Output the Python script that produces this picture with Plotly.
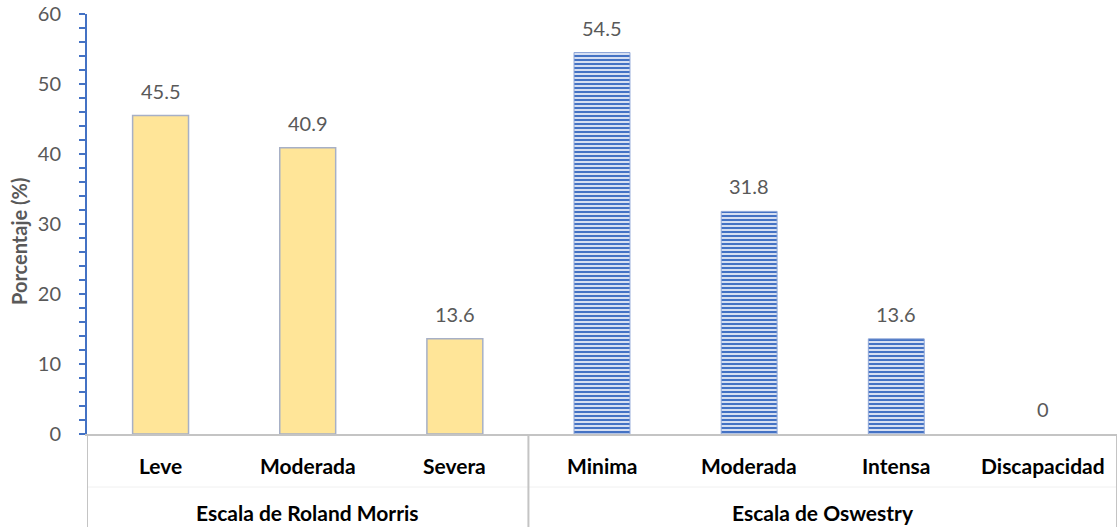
import plotly.graph_objects as go

# ---- data ----
groups = ["Escala de Roland Morris", "Escala de Oswestry"]
roland_categories = ["Leve", "Moderada", "Severa"]
roland_values = [45.5, 40.9, 13.6]
oswestry_categories = ["Minima", "Moderada", "Intensa", "Discapacidad"]
oswestry_values = [54.5, 31.8, 13.6, 0]
y_title = "Porcentaje (%)"
y_ticks = [0, 10, 20, 30, 40, 50, 60]

categories = roland_categories + oswestry_categories
values = roland_values + oswestry_values
x_roland = list(range(len(roland_categories)))
x_osw = list(range(len(roland_categories), len(categories)))
n = len(categories)

FONT = "Lato"
GRAY_TXT = "#595959"
TABLE = "#C4C4C4"
BLUE = "#4472C4"

W, H = 1119, 527
ML, MR, MT, MB = 87, 2, 14, 93
plot_w = W - ML - MR
plot_h = H - MT - MB

fig = go.Figure()
fig.add_trace(go.Bar(
    x=x_roland, y=roland_values, width=0.38,
    marker=dict(color="#FFE598", line=dict(color="#A7B0C6", width=1.5)),
    hoverinfo="y", showlegend=False))
fig.add_trace(go.Bar(
    x=x_osw, y=oswestry_values, width=0.38,
    marker=dict(color="#D6DFF2",
                line=dict(color="#8EA6D8",
                          width=[1 if v > 0 else 0 for v in oswestry_values]),
                pattern=dict(shape="-", fgcolor=BLUE, bgcolor="#D6DFF2",
                             size=4, solidity=0.5, fillmode="replace")),
    hoverinfo="y", showlegend=False))

ann = []
# data labels
for xi, v in zip(range(n), values):
    ann.append(dict(x=xi, y=v, xref="x", yref="y", text=f"{v:g}",
                    showarrow=False, yanchor="middle", yshift=25,
                    font=dict(family=FONT, size=20, color=GRAY_TXT)))
row1 = -31 / plot_h
row2 = -78 / plot_h
bottom = -MB / plot_h
for xi, c in zip(range(n), categories):
    ann.append(dict(x=xi, y=row1, xref="x", yref="paper", text=f"<b>{c}</b>",
                    showarrow=False, yanchor="middle",
                    font=dict(family=FONT, size=21, color="black")))
group_members = [x_roland, x_osw]
for g, mem in zip(groups, group_members):
    ann.append(dict(x=sum(mem) / len(mem), y=row2, xref="x", yref="paper",
                    text=f"<b>{g}</b>", showarrow=False, yanchor="middle",
                    font=dict(family=FONT, size=21, color="black")))
# y-axis title
ann.append(dict(x=(19 - ML) / plot_w, y=(MT + plot_h - 242) / plot_h,
                xref="paper", yref="paper", text=f"<b>{y_title}</b>",
                textangle=-90, showarrow=False, xanchor="center",
                yanchor="middle",
                font=dict(family=FONT, size=20, color=GRAY_TXT)))

shapes = []
# table vertical lines: left, group separator, right
for xv in [-0.5, len(roland_categories) - 0.5, n - 0.5]:
    shapes.append(dict(type="line", xref="x", yref="paper", x0=xv, x1=xv,
                       y0=0, y1=bottom, line=dict(color=TABLE, width=2)))
# faint row separator
shapes.append(dict(type="line", xref="x", yref="paper", x0=-0.5, x1=n - 0.5,
                   y0=-53 / plot_h, y1=-53 / plot_h,
                   line=dict(color="#F0F0F0", width=1), layer="below"))

fig.update_layout(
    width=W, height=H,
    margin=dict(l=ML, r=MR, t=MT, b=MB, autoexpand=False),
    paper_bgcolor="white", plot_bgcolor="white",
    barmode="overlay",
    annotations=ann, shapes=shapes,
    xaxis=dict(range=[-0.5, n - 0.5], showticklabels=False, ticks="",
               showgrid=False, zeroline=False, showline=True,
               linecolor=TABLE, linewidth=2, fixedrange=True,
               automargin=False),
    yaxis=dict(range=[0, 60], tickvals=y_ticks, ticks="outside", ticklen=6,
               tickwidth=2, tickcolor=BLUE, showline=True, linecolor=BLUE,
               linewidth=2, showgrid=False, zeroline=False,
               ticklabelstandoff=14, automargin=False,
               ticklabeloverflow="allow",
               tickfont=dict(family=FONT, size=20, color=GRAY_TXT),
               minor=dict(dtick=2, ticks="outside", ticklen=6, tickwidth=2,
                          tickcolor=BLUE, showgrid=False)),
    yaxis2=dict(range=[0, 60], overlaying="y", side="left", tickvals=y_ticks,
                ticks="inside", ticklen=7, tickwidth=2, tickcolor=BLUE,
                showticklabels=False, showline=False, showgrid=False,
                zeroline=False, automargin=False),
)

fig.write_html(
    "out.html",
    config={"displayModeBar": False},
    post_script="document.body.style.margin='0';"
                "document.body.style.overflow='hidden';",
)
